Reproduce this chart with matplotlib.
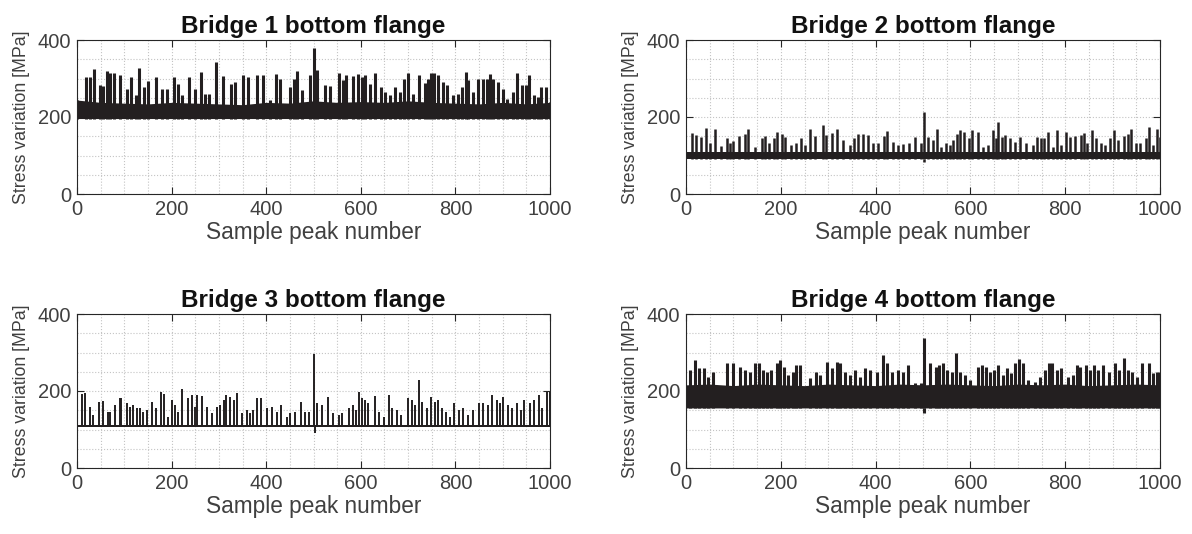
import numpy as np
import matplotlib
matplotlib.use("Agg")
import matplotlib.pyplot as plt
from matplotlib.ticker import MultipleLocator

plt.rcParams["font.family"] = ["Liberation Sans", "DejaVu Sans"]

LINE = "#231f20"
TXT = "#404040"

titles = ["Bridge 1 bottom flange", "Bridge 2 bottom flange",
          "Bridge 3 bottom flange", "Bridge 4 bottom flange"]
xlabel = "Sample peak number"
ylabel = "Stress variation [MPa]"

# sample numbers at which the dense core band was read (every 50 peaks)
band_x = list(range(0, 1001, 50))

# ---- Bridge 1: dense core + spikes
b1_lo = [196] * 21
b1_hi = [244, 238, 236, 234, 238, 236, 234, 232, 238, 236, 242,
         238, 240, 238, 242, 238, 236, 234, 238, 234, 238]
b1_px = [0, 19, 27, 36, 49, 56, 63, 70, 78, 91, 105, 114, 124, 132, 142, 151,
         167, 179, 190, 205, 214, 223, 237, 249, 262, 271, 280, 293, 309, 325,
         335, 350, 362, 380, 394, 407, 420, 429, 450, 459, 466, 476, 493, 500,
         507, 524, 535, 553, 563, 569, 583, 595, 602, 609, 619, 630, 642, 651,
         662, 672, 683, 691, 700, 711, 722, 736, 743, 748, 755, 764, 773, 783,
         794, 806, 813, 822, 827, 838, 848, 859, 867, 873, 880, 891, 901, 910,
         921, 931, 940, 949, 956, 966, 975, 982, 991, 999]
b1_py = [244, 305, 303, 325, 283, 281, 320, 315, 315, 309, 274, 303, 257, 326,
         277, 293, 303, 274, 274, 305, 287, 257, 303, 274, 316, 261, 261, 342,
         307, 286, 292, 309, 303, 309, 309, 244, 312, 298, 279, 300, 320, 270,
         309, 378, 322, 283, 281, 315, 296, 309, 306, 312, 305, 309, 287, 313,
         279, 266, 257, 277, 266, 300, 315, 261, 309, 289, 300, 315, 315, 309,
         292, 283, 257, 261, 279, 318, 296, 266, 300, 298, 300, 312, 298, 292,
         274, 248, 266, 313, 283, 283, 309, 257, 253, 279, 279, 240]
b1_dx = []
b1_dy = []

# ---- Bridge 2
b2_lo = [92] * 21
b2_hi = [110] * 21
b2_px = [12, 22, 31, 42, 51, 61, 73, 86, 93, 100, 112, 124, 131, 146, 160, 167,
         176, 186, 193, 202, 209, 221, 232, 242, 251, 262, 272, 288, 295, 307,
         318, 332, 346, 354, 363, 374, 385, 395, 406, 418, 425, 437, 448, 457,
         471, 484, 495, 502, 511, 522, 529, 537, 549, 557, 564, 572, 579, 587,
         596, 603, 617, 627, 638, 647, 654, 659, 666, 673, 684, 694, 705, 717,
         733, 741, 748, 755, 764, 775, 782, 792, 801, 810, 821, 833, 840, 845,
         856, 866, 875, 884, 894, 903, 912, 924, 933, 939, 949, 958, 970, 977,
         986, 994, 1000]
b2_py = [158, 153, 149, 172, 133, 170, 125, 146, 132, 138, 151, 156, 170, 123,
         145, 151, 132, 145, 160, 156, 147, 127, 133, 146, 127, 170, 151, 179,
         153, 158, 168, 140, 127, 145, 155, 155, 153, 132, 132, 151, 164, 134,
         127, 130, 132, 149, 132, 212, 149, 140, 168, 123, 132, 127, 140, 156,
         166, 162, 145, 166, 162, 123, 127, 166, 145, 186, 149, 153, 146, 136,
         149, 133, 127, 147, 145, 145, 162, 123, 166, 127, 162, 149, 151, 153,
         159, 132, 166, 145, 132, 127, 145, 166, 140, 151, 156, 168, 132, 132,
         145, 175, 127, 168, 149]
b2_dx = [502]
b2_dy = [84]

# ---- Bridge 3
b3_lo = [106] * 21
b3_hi = [111] * 21
b3_px = [1, 11, 17, 27, 34, 46, 56, 66, 70, 80, 90, 94, 105, 112, 119, 126,
         133, 140, 149, 159, 168, 178, 183, 193, 200, 207, 214, 223, 235, 244,
         249, 253, 264, 274, 285, 295, 302, 311, 316, 323, 331, 339, 348, 359,
         366, 373, 381, 390, 401, 412, 422, 431, 443, 450, 461, 474, 482, 490,
         500, 501, 507, 517, 530, 542, 553, 560, 574, 583, 589, 596, 602, 609,
         616, 629, 638, 648, 660, 667, 676, 686, 700, 708, 715, 723, 730, 739,
         748, 757, 763, 771, 780, 789, 798, 808, 817, 827, 838, 849, 859, 868,
         878, 887, 894, 901, 911, 919, 930, 939, 946, 958, 967, 977, 984, 993,
         1000]
b3_py = [120, 191, 196, 159, 138, 171, 174, 146, 146, 164, 183, 181, 168, 159,
         164, 155, 155, 146, 151, 172, 155, 198, 191, 133, 177, 164, 146, 204,
         181, 190, 159, 190, 188, 159, 142, 159, 164, 177, 190, 185, 177, 194,
         142, 151, 142, 151, 183, 181, 155, 159, 146, 164, 133, 142, 146, 172,
         146, 146, 151, 295, 168, 164, 185, 142, 138, 142, 155, 164, 151, 198,
         181, 177, 168, 188, 146, 133, 190, 155, 151, 138, 183, 177, 164, 229,
         172, 155, 185, 172, 177, 155, 146, 133, 168, 151, 155, 138, 151, 168,
         168, 164, 190, 177, 168, 185, 164, 155, 168, 151, 177, 168, 177, 190,
         155, 198, 198]
b3_dx = [503]
b3_dy = [90]

# ---- Bridge 4
b4_lo = [156] * 21
b4_hi = [216, 218, 214, 218, 216, 214, 218, 216, 214, 218, 216,
         218, 216, 214, 218, 216, 218, 214, 216, 218, 216]
b4_px = [8, 19, 28, 38, 47, 58, 86, 100, 114, 124, 135, 146, 153, 162, 170, 179,
         191, 198, 207, 216, 225, 233, 240, 261, 274, 283, 297, 307, 318, 325,
         335, 346, 356, 367, 378, 388, 402, 415, 425, 434, 448, 457, 469, 483,
         495, 503, 515, 527, 534, 542, 550, 561, 570, 578, 589, 599, 617, 624,
         633, 641, 650, 659, 669, 678, 685, 694, 703, 712, 722, 736, 747, 757,
         766, 773, 783, 792, 806, 817, 824, 832, 844, 852, 861, 870, 880, 893,
         905, 914, 923, 933, 940, 952, 961, 976, 986, 994, 1000]
b4_py = [255, 281, 259, 259, 237, 250, 272, 272, 263, 255, 250, 272, 272, 255,
         250, 255, 272, 281, 263, 242, 250, 268, 268, 233, 250, 242, 276, 259,
         276, 272, 250, 242, 255, 237, 259, 255, 250, 293, 272, 250, 255, 250,
         268, 220, 220, 337, 272, 263, 268, 272, 255, 250, 298, 250, 242, 229,
         263, 268, 263, 250, 255, 268, 242, 259, 246, 272, 282, 272, 229, 224,
         237, 255, 272, 274, 255, 259, 237, 242, 268, 263, 268, 255, 268, 255,
         268, 250, 272, 255, 285, 255, 250, 237, 272, 272, 246, 250, 250]
b4_dx = [503]
b4_dy = [142]

panels = [
    (b1_lo, b1_hi, b1_px, b1_py, b1_dx, b1_dy, 2.2),
    (b2_lo, b2_hi, b2_px, b2_py, b2_dx, b2_dy, 1.8),
    (b3_lo, b3_hi, b3_px, b3_py, b3_dx, b3_dy, 1.4),
    (b4_lo, b4_hi, b4_px, b4_py, b4_dx, b4_dy, 2.2),
]

W, H = 1192, 534
fig = plt.figure(figsize=(W / 100, H / 100), dpi=100)

# axes boxes in pixels: left, top, right, bottom
boxes = [(77, 40, 550, 194), (686, 40, 1160, 194),
         (77, 314, 550, 468), (686, 314, 1160, 468)]

for i, (lo, hi, px, py, dx, dy, lw) in enumerate(panels):
    l, t, r, b = boxes[i]
    ax = fig.add_axes([l / W, 1 - b / H, (r - l) / W, (b - t) / H])

    ax.fill_between(band_x, lo, hi, color=LINE, linewidth=0)
    base = min(lo)
    ax.vlines(px, base, py, color=LINE, linewidth=lw)
    if dx:
        ax.vlines(dx, dy, base, color=LINE, linewidth=lw)

    ax.set_xlim(0, 1000)
    ax.set_ylim(0, 400)
    ax.set_xticks(range(0, 1001, 200))
    ax.set_yticks([0, 200, 400])
    ax.xaxis.set_minor_locator(MultipleLocator(50))
    ax.yaxis.set_minor_locator(MultipleLocator(50))
    ax.grid(True, which="both", linestyle=":", color="#c4c4c4", linewidth=0.8)
    ax.set_axisbelow(True)
    ax.tick_params(which="major", direction="in", top=True, right=True,
                   length=5, width=0.8, color="#262626",
                   labelsize=14.5, labelcolor=TXT, pad=4)
    ax.tick_params(which="minor", length=0)
    for s in ax.spines.values():
        s.set_color("#262626")
        s.set_linewidth(0.8)

    ax.set_title(titles[i], fontsize=17.5, fontweight="bold", color="#111111", pad=5)
    ax.set_xlabel(xlabel, fontsize=16.3, color=TXT, labelpad=2)
    ax.set_ylabel(ylabel, fontsize=12.8, color=TXT, labelpad=6)

fig.savefig("out.png", dpi=100)
